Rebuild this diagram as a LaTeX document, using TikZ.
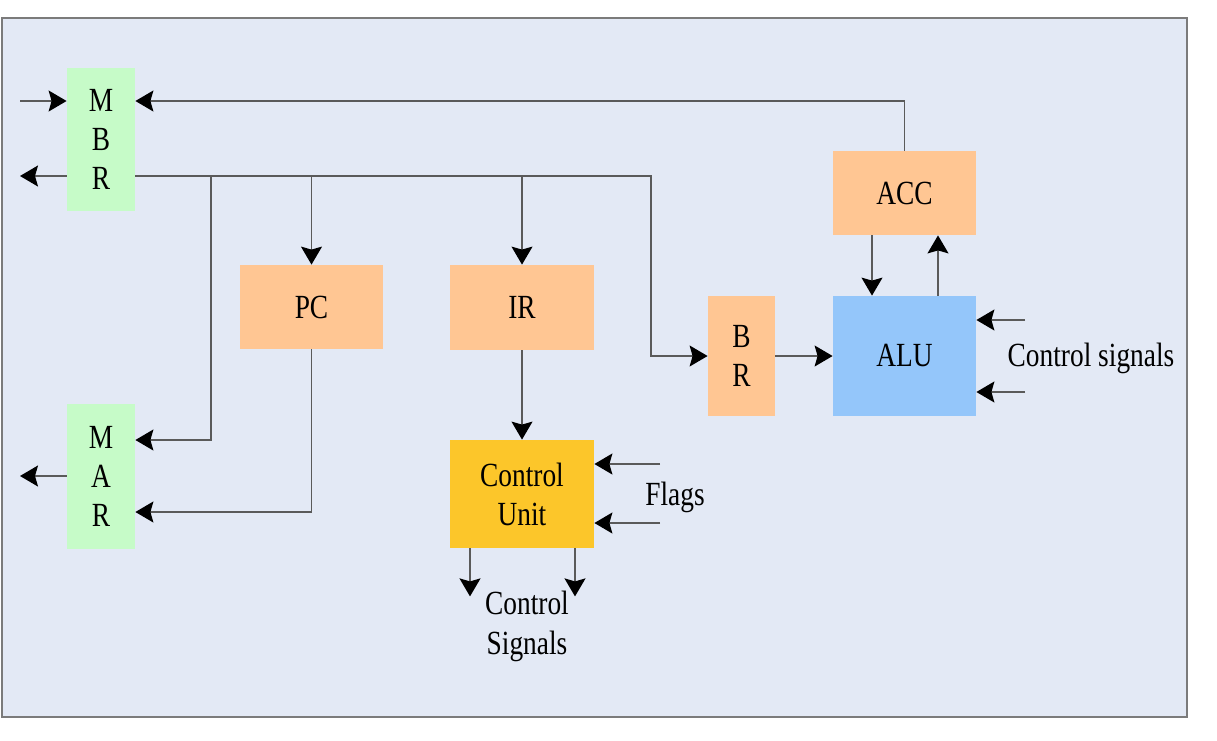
\documentclass[tikz,border=0pt]{standalone}
\usepackage{fontspec}
\setmainfont{Liberation Serif}[FakeStretch=0.81]
\usetikzlibrary{arrows.meta,calc}
\definecolor{bgblue}{HTML}{E3E9F5}
\definecolor{regGreen}{HTML}{C6FBC8}
\definecolor{regPeach}{HTML}{FFC693}
\definecolor{cuGold}{HTML}{FCC62A}
\definecolor{aluBlue}{HTML}{94C6FA}
\definecolor{wire}{HTML}{5A5A5A}
\tikzset{
  reg/.style={rectangle,inner sep=0pt,align=center,font=\fontsize{16.9}{19.5}\selectfont},
  arr/.style={draw=wire,line width=0.75pt,-{Stealth[length=9pt,width=10.5pt,inset=1.5pt,color=black]}},
  wire/.style={draw=wire,line width=0.75pt},
  lbl/.style={align=center,inner sep=0pt,font=\fontsize{16.9}{20}\selectfont}
}
\begin{document}
\begin{tikzpicture}[x=0.5pt,y=-0.5pt]
\useasboundingbox (0,0) rectangle (1217,740);
\draw[fill=bgblue,draw=wire!80,line width=0.75pt] (2,18) rectangle (1187,717);

% registers
\node[reg,fill=regGreen,minimum width=34pt,minimum height=71.5pt] (mbr) at (101,139) {M\\B\\R};
\node[reg,fill=regGreen,minimum width=34pt,minimum height=72.5pt] (mar) at (101,476) {M\\A\\R};
\node[reg,fill=regPeach,minimum width=71.5pt,minimum height=42pt] (pc) at (311.5,307) {PC};
\node[reg,fill=regPeach,minimum width=72pt,minimum height=42.5pt] (ir) at (522,307.5) {IR};
\node[reg,fill=cuGold,minimum width=72pt,minimum height=54pt] (cu) at (522,494) {Control\\Unit};
\node[reg,fill=regPeach,minimum width=33.5pt,minimum height=60pt] (br) at (741.5,356) {B\\R};
\node[reg,fill=aluBlue,minimum width=71.5pt,minimum height=60pt] (alu) at (904.5,356) {ALU};
\node[reg,fill=regPeach,minimum width=71.5pt,minimum height=42pt] (acc) at (904.5,193) {ACC};

% free ends
\coordinate (mbrin) at (20,101);
\coordinate (mbrout) at (20,176);
\coordinate (marout) at (20,476);
\coordinate (bus) at (651,176);
\coordinate (j1) at (211,176);
\coordinate (cs1) at (1025,320);
\coordinate (cs2) at (1025,392);
\coordinate (fl1) at (660,464);
\coordinate (fl2) at (660,523);

% data paths
\draw[arr] (mbrin) -- (mbrin -| mbr.west);
\draw[arr] (mbrout -| mbr.west) -- (mbrout);
\draw[arr] (marout -| mar.west) -- (marout);
\draw[arr] (mbrout -| mbr.east) -- (bus) |- (br.west);
\draw[arr] (j1) |- ($(mar.east)+(0,-36)$);
\draw[arr] (pc.north |- bus) -- (pc.north);
\draw[arr] (ir.north |- bus) -- (ir.north);
\draw[arr] (pc.south) |- ($(mar.east)+(0,36)$);
\draw[arr] (ir.south) -- (cu.north);
\draw[arr] (br.east) -- (alu.west);
\draw[arr] (acc.north) |- ($(mbr.east)+(0,-38)$);
\draw[arr] ($(acc.south)+(-32.5,0)$) -- ($(alu.north)+(-32.5,0)$);
\draw[arr] ($(alu.north)+(33.5,0)$) -- ($(acc.south)+(33.5,0)$);

% control
\draw[arr] (cs1) -- (cs1 -| alu.east);
\draw[arr] (cs2) -- (cs2 -| alu.east);
\draw[arr] (fl1) -- (fl1 -| cu.east);
\draw[arr] (fl2) -- (fl2 -| cu.east);
\draw[arr] ($(cu.south)+(-52,0)$) -- ++(0,48);
\draw[arr] ($(cu.south)+(53,0)$) -- ++(0,48);

\node[lbl] (cslbl) at (1091,358) {Control signals};
\node[lbl] (fllbl) at (675,497) {Flags};
\node[lbl] (culbl) at (527,626) {Control\\Signals};
\end{tikzpicture}
\end{document}
